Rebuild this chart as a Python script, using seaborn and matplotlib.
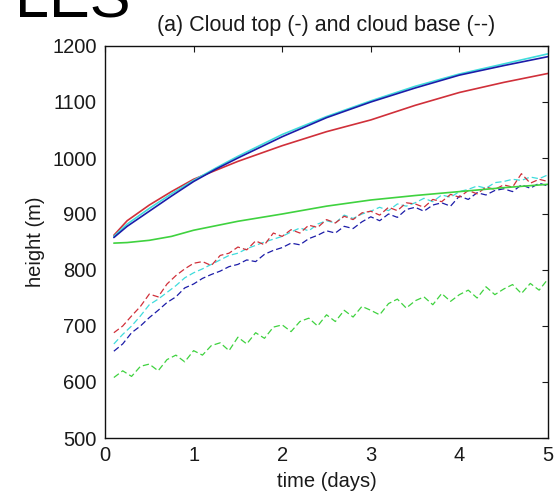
import matplotlib
matplotlib.use("Agg")
import matplotlib.pyplot as plt
import seaborn as sns
import pandas as pd

# ---- data ----
t_top = [0.1, 0.25, 0.5, 0.75, 1.0, 1.25, 1.5, 2.0, 2.5, 3.0, 3.5, 4.0, 4.5, 5.0]
top_blue = [858, 878, 905, 932, 958, 980, 1000, 1038, 1072, 1100, 1125, 1148, 1165, 1181]
top_cyan = [860, 882, 910, 936, 960, 982, 1003, 1042, 1074, 1102, 1128, 1150, 1168, 1186]
top_red = [862, 888, 916, 940, 962, 978, 994, 1022, 1047, 1068, 1094, 1117, 1135, 1151]
top_green = [848, 849, 853, 860, 871, 879, 887, 900, 914, 925, 933, 940, 947, 953]

t_base = [0.1, 0.2, 0.3, 0.4, 0.5, 0.6, 0.7, 0.8, 0.9, 1.0,
          1.1, 1.2, 1.3, 1.4, 1.5, 1.6, 1.7, 1.8, 1.9, 2.0,
          2.1, 2.2, 2.3, 2.4, 2.5, 2.6, 2.7, 2.8, 2.9, 3.0,
          3.1, 3.2, 3.3, 3.4, 3.5, 3.6, 3.7, 3.8, 3.9, 4.0,
          4.1, 4.2, 4.3, 4.4, 4.5, 4.6, 4.7, 4.8, 4.9, 5.0]
base_red = [688, 700, 718, 735, 757, 752, 775, 790, 802, 812,
            815, 808, 826, 830, 841, 836, 852, 845, 866, 860,
            872, 866, 880, 876, 890, 884, 896, 890, 902, 905,
            898, 912, 906, 920, 918, 912, 926, 922, 935, 930,
            942, 936, 948, 944, 952, 948, 972, 955, 962, 958]
base_cyan = [668, 685, 700, 718, 738, 748, 760, 772, 786, 795,
             802, 810, 818, 826, 830, 838, 844, 850, 855, 860,
             868, 875, 870, 882, 888, 884, 898, 892, 900, 905,
             912, 906, 918, 914, 920, 928, 922, 934, 930, 940,
             944, 950, 946, 956, 958, 962, 960, 966, 963, 970]
base_blue = [655, 668, 688, 700, 715, 728, 742, 752, 768, 775,
             785, 792, 798, 806, 810, 818, 815, 828, 835, 840,
             848, 845, 856, 862, 870, 866, 878, 874, 886, 895,
             888, 900, 894, 908, 912, 905, 916, 920, 914, 932,
             926, 938, 934, 942, 945, 940, 952, 946, 955, 950]
base_green = [608, 620, 610, 628, 632, 620, 640, 648, 636, 656,
              648, 665, 670, 656, 680, 668, 688, 678, 698, 702,
              690, 708, 714, 700, 720, 708, 728, 716, 735, 728,
              720, 740, 748, 732, 745, 752, 738, 758, 744, 756,
              764, 750, 770, 756, 766, 774, 758, 776, 764, 784]

x_ticks = [0, 1, 2, 3, 4, 5]
y_ticks = [500, 600, 700, 800, 900, 1000, 1100, 1200]

# ---- style ----
sns.set_style("white")
plt.rcParams["font.family"] = ["Liberation Sans", "DejaVu Sans"]
TXT = "#1a1a1a"

fig = plt.figure(figsize=(5.59, 4.93), dpi=100)
ax = fig.add_axes([105 / 559, 1 - 438 / 493, (548 - 105) / 559, (438 - 46) / 493])

cols = {"blue": "#1c1ca8", "cyan": "#3fdcdc", "red": "#d0303a", "green": "#3fd23f"}

bases = [("green", base_green), ("blue", base_blue), ("cyan", base_cyan), ("red", base_red)]
for name, vals in bases:
    df = pd.DataFrame({"t": t_base, "h": vals})
    sns.lineplot(data=df, x="t", y="h", ax=ax, color=cols[name], lw=0.9,
                 estimator=None)
    ax.lines[-1].set_dashes((5, 2.5))

tops = [("green", top_green), ("red", top_red), ("cyan", top_cyan), ("blue", top_blue)]
for name, vals in tops:
    df = pd.DataFrame({"t": t_top, "h": vals})
    sns.lineplot(data=df, x="t", y="h", ax=ax, color=cols[name], lw=1.2, estimator=None)

ax.set_xlim(0, 5)
ax.set_ylim(500, 1200)
ax.set_xticks(x_ticks)
ax.set_yticks(y_ticks)
ax.tick_params(direction="in", length=4, width=0.8, top=True, right=True,
               labelsize=14.5, colors=TXT, pad=6)
for s in ax.spines.values():
    s.set_visible(True)
    s.set_linewidth(1.0)
    s.set_color("#111111")

ax.set_xlabel("time (days)", fontsize=14.5, color=TXT, labelpad=5)
ax.set_ylabel("height (m)", fontsize=14.5, color=TXT, labelpad=5)
ax.set_title("(a) Cloud top (-) and cloud base (--)", fontsize=15.5, color=TXT, pad=11)

fig.text(15 / 559, 1 - 17 / 493, "LES", fontsize=44, color="black",
         ha="left", va="baseline")

fig.savefig("out.png", dpi=100)
